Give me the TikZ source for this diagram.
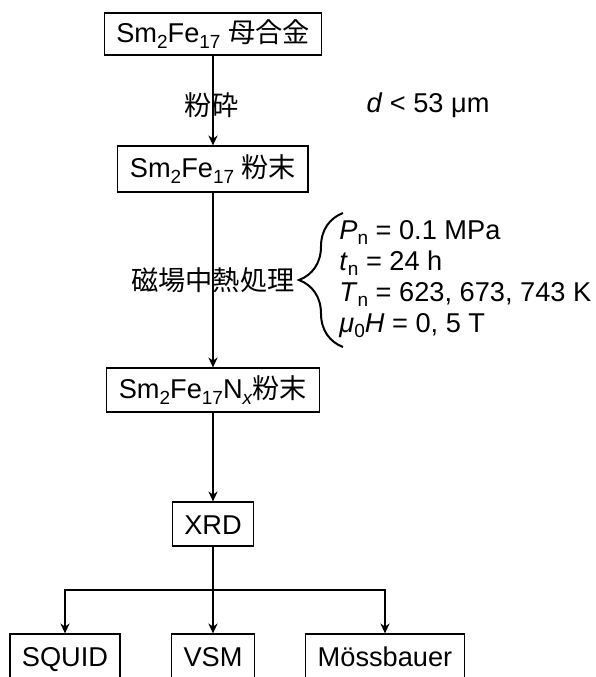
\documentclass[tikz,border=0pt]{standalone}
\usepackage{fontspec}
\setmainfont{Liberation Sans}
\newfontfamily\cjk{Noto Sans CJK JP}
\usepackage{tikz}
\usetikzlibrary{arrows.meta}
\usetikzlibrary{decorations.pathreplacing}
\newcommand{\lsub}[1]{\raisebox{-2.6pt}{\fontsize{9.5}{9.5}\selectfont #1}}
\tikzstyle{box} = [draw,line width=0.6pt,inner xsep=6pt,minimum height=22pt]
\tikzstyle{flat} = [text height=10pt,text depth=0pt]
\tikzstyle{flow} = [-{Stealth[length=5pt,width=4.6pt]},line width=0.6pt]

\begin{document}
\begin{tikzpicture}[x=0.5pt,y=-0.5pt,font=\fontsize{13.6}{15.5}\selectfont]
\useasboundingbox (0,0) rectangle (596,677);

\draw(213,34) node[box,minimum height=21pt] (alloy) {Sm\lsub{2}Fe\lsub{17} {\cjk 母合金}};
\draw(212,105) node (crush) {\cjk 粉砕};
\draw(428,105) node (size) {\textit{d} < 53 μm};

\draw(213,169) node[box,minimum height=23pt] (powder) {Sm\lsub{2}Fe\lsub{17} {\cjk 粉末}};

\draw(295,280) node[anchor=east,inner sep=0pt] (anneal) {\cjk 磁場中熱処理};
\coordinate (bracebot) at (343,347);
\coordinate (bracetop) at (343,213);
\draw[decorate,decoration={brace,amplitude=22pt},line width=1pt] (bracebot) -- (bracetop);
\draw(339,279) node[anchor=west,inner sep=0pt,align=left] (cond) {%
\textit{P}\lsub{n} = 0.1 MPa\\
\textit{t}\lsub{n} = 24 h\\
\textit{T}\lsub{n} = 623, 673, 743 K\\
\textit{μ}\lsub{0}\textit{H} = 0, 5 T};

\draw(213,390) node[box] (nitride) {Sm\lsub{2}Fe\lsub{17}N\lsub{\textit{x}}{\cjk 粉末}};
\draw(213,524) node[box,flat] (xrd) {XRD};

\coordinate (fork) at (213,590);
\draw(65,656) node[box,flat] (squid) {SQUID};
\draw(213,656) node[box,flat] (vsm) {VSM};
\draw(385,656) node[box,flat] (moss) {Mössbauer};

\draw[flow] (alloy) -- (powder);
\draw[flow] (powder) -- (nitride);
\draw[flow] (nitride) -- (xrd);
\draw[line width=0.6pt] (xrd) -- (fork);
\draw[flow] (fork) -- (vsm);
\draw[flow] (fork) -| (squid);
\draw[flow] (fork) -| (moss);

\end{tikzpicture}
\end{document}
